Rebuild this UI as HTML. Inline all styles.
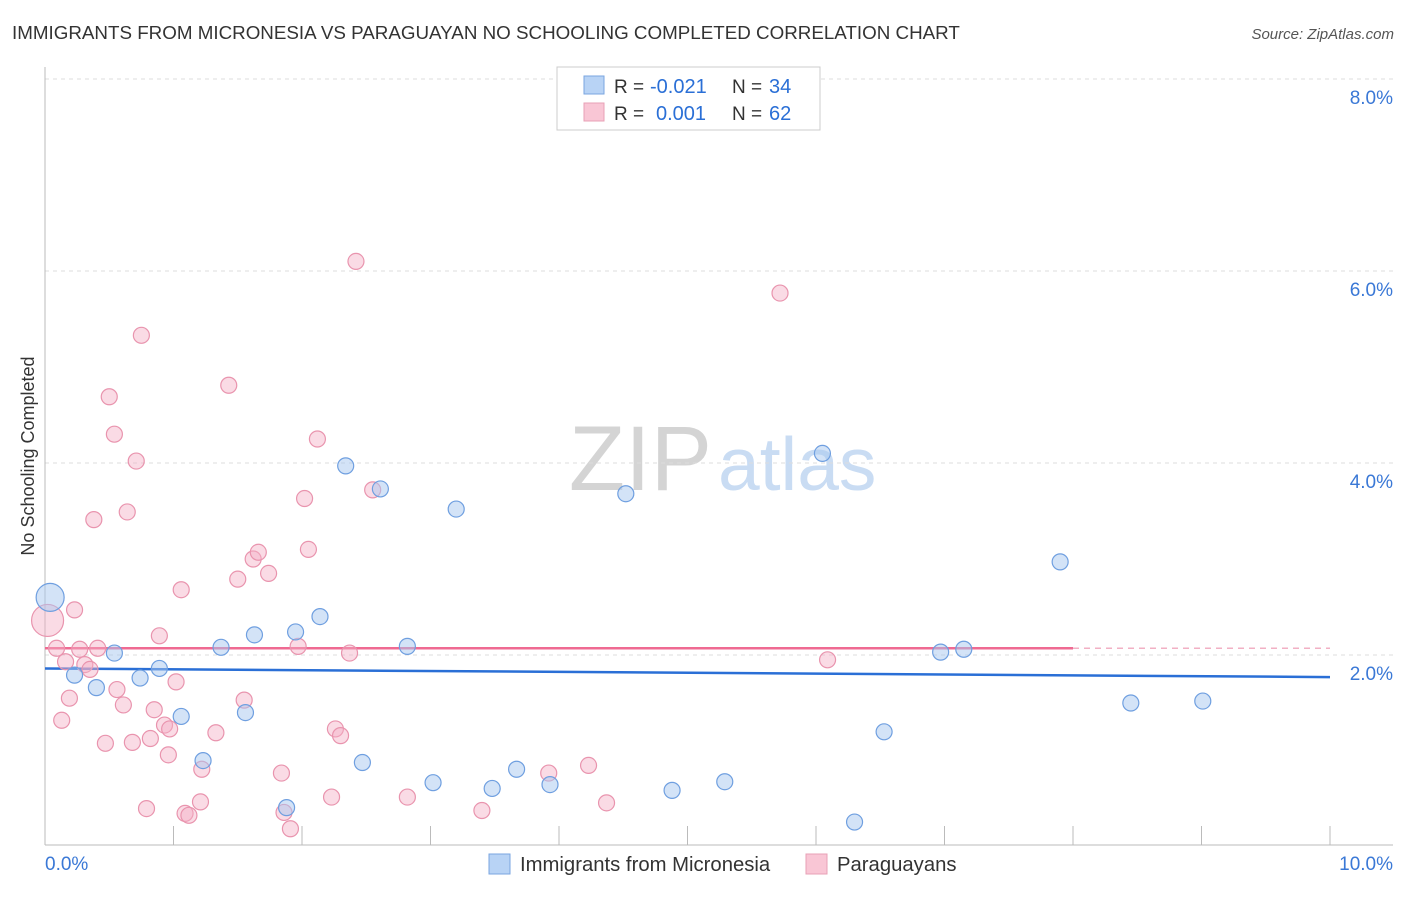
<!DOCTYPE html>
<html><head><meta charset="utf-8"><style>
body{margin:0;background:#fff;font-family:"Liberation Sans",sans-serif;}
svg text{font-family:"Liberation Sans",sans-serif;}
</style></head><body>
<svg id="chart" width="1406" height="892">
<text x="12" y="39" font-size="18.8" fill="#333">IMMIGRANTS FROM MICRONESIA VS PARAGUAYAN NO SCHOOLING COMPLETED CORRELATION CHART</text>
<text x="1394" y="39" font-size="15" fill="#555" font-style="italic" text-anchor="end">Source: ZipAtlas.com</text>
<text x="34" y="456" font-size="18" fill="#333" text-anchor="middle" transform="rotate(-90 34 456)">No Schooling Completed</text>
<text x="712" y="490" font-size="92" fill="#d4d4d4" font-family="Liberation Serif" text-anchor="end">ZIP</text>
<text x="718" y="490" font-size="75" fill="#c9dcf3">atlas</text>
<g id="grid"></g><g id="axes"></g><g id="lines"></g><g id="points"></g>
<g>
<rect x="557" y="67" width="263" height="63" fill="#fff" stroke="#ccc"/>
<rect x="584" y="76" width="20" height="18" fill="#b8d3f5" stroke="#7aa6e0"/>
<text x="614" y="93" font-size="19" fill="#333">R =</text>
<text x="650" y="93" font-size="20" fill="#2a6fd6">-0.021</text>
<text x="732" y="93" font-size="19" fill="#333">N =</text>
<text x="769" y="93" font-size="20" fill="#2a6fd6">34</text>
<rect x="584" y="103" width="20" height="18" fill="#f9c6d5" stroke="#e8a0b6"/>
<text x="614" y="120" font-size="19" fill="#333">R =</text>
<text x="656" y="120" font-size="20" fill="#2a6fd6">0.001</text>
<text x="732" y="120" font-size="19" fill="#333">N =</text>
<text x="769" y="120" font-size="20" fill="#2a6fd6">62</text>
</g>
<g>
<rect x="489" y="854" width="21" height="20" fill="#b8d3f5" stroke="#7aa6e0"/>
<text x="520" y="871" font-size="20.3" fill="#333">Immigrants from Micronesia</text>
<rect x="806" y="854" width="21" height="20" fill="#f9c6d5" stroke="#e8a0b6"/>
<text x="837" y="871" font-size="20.3" fill="#333">Paraguayans</text>
</g>
</svg>
<script>
const yTicks=[2,4,6,8];
const yTickLabels=["2.0%","4.0%","6.0%","8.0%"];
const xTicks=[0,1,2,3,4,5,6,7,8,9,10];
const xEndLabels=["0.0%","10.0%"];
const blueX=[0.04,0.23,0.40,0.54,0.74,0.89,1.06,1.23,1.37,1.56,1.63,1.88,1.95,2.14,2.34,2.47,2.61,2.82,3.02,3.20,3.48,3.67,3.93,4.52,4.88,5.29,6.05,6.30,6.53,6.97,7.15,7.90,8.45,9.01];
const blueY=[2.60,1.79,1.66,2.02,1.76,1.86,1.36,0.90,2.08,1.40,2.21,0.41,2.24,2.40,3.97,0.88,3.73,2.09,0.67,3.52,0.61,0.81,0.65,3.68,0.59,0.68,4.10,0.26,1.20,2.03,2.06,2.97,1.50,1.52];
const pinkX=[0.02,0.09,0.13,0.16,0.19,0.23,0.27,0.31,0.35,0.38,0.41,0.47,0.50,0.54,0.56,0.61,0.64,0.68,0.71,0.75,0.79,0.82,0.85,0.89,0.93,0.96,0.97,1.02,1.06,1.09,1.12,1.21,1.22,1.33,1.43,1.50,1.55,1.62,1.66,1.74,1.84,1.86,1.91,1.97,2.02,2.05,2.12,2.23,2.26,2.30,2.37,2.42,2.55,2.82,3.40,3.92,4.23,4.37,5.72,6.09];
const pinkY=[2.36,2.07,1.32,1.93,1.55,2.47,2.06,1.90,1.85,3.41,2.07,1.08,4.69,4.30,1.64,1.48,3.49,1.09,4.02,5.33,0.40,1.13,1.43,2.20,1.27,0.96,1.23,1.72,2.68,0.35,0.33,0.47,0.81,1.19,4.81,2.79,1.53,3.00,3.07,2.85,0.77,0.36,0.19,2.09,3.63,3.10,4.25,0.52,1.23,1.16,2.02,6.10,3.72,0.52,0.38,0.77,0.85,0.46,5.77,1.95];
const blueTrend=[1.86,1.77];
const pinkTrend=[2.07,2.07];
const NS="http://www.w3.org/2000/svg";
const X=v=>45+v*128.5, Y=v=>847-v*96;
function mk(parent,tag,attrs){const e=document.createElementNS(NS,tag);for(const k in attrs)e.setAttribute(k,attrs[k]);document.getElementById(parent).appendChild(e);return e;}
yTicks.forEach((t,i)=>{
 const g=mk('grid','line',{x1:45,x2:1393,y1:Y(t),y2:Y(t),stroke:'#ddd','stroke-dasharray':'4,4'});
 
 
 const l=mk('axes','text',{x:1393,y:Y(t)+25,'font-size':19,fill:'#3a78d6','text-anchor':'end'});l.textContent=yTickLabels[i];
 
 
});
const ax=mk('axes','line',{x1:45,x2:45,y1:67,y2:845,stroke:'#bbb'});


const bx=mk('axes','line',{x1:45,x2:1393,y1:845,y2:845,stroke:'#bbb'});


xTicks.forEach(t=>{const k=mk('axes','line',{x1:X(t),x2:X(t),y1:826,y2:845,stroke:'#bbb'});
 
 });
[[0,'start',xEndLabels[0]],[10,'end',xEndLabels[1]]].forEach(a=>{
 const l=mk('axes','text',{x:a[0]===0?45:1393,y:870,'font-size':19,fill:'#3a78d6','text-anchor':a[1]});l.textContent=a[2];
 
 });
const bl=mk('lines','line',{x1:X(0),x2:X(10),y1:Y(blueTrend[0]),y2:Y(blueTrend[1]),stroke:'#2a6fd6','stroke-width':2.5});


const pl=mk('lines','line',{x1:X(0),x2:X(8),y1:Y(pinkTrend[0]),y2:Y(pinkTrend[0]+(pinkTrend[1]-pinkTrend[0])*0.8),stroke:'#ef6a92','stroke-width':2.5});


const pd=mk('lines','line',{x1:X(8),x2:X(10),y1:Y(pinkTrend[0]+(pinkTrend[1]-pinkTrend[0])*0.8),y2:Y(pinkTrend[1]),stroke:'#f2b0c4','stroke-width':1.5,'stroke-dasharray':'6,5'});


pinkX.forEach((x,i)=>{const c=mk('points','circle',{cx:X(x),cy:Y(pinkY[i]),r:i===0?16:8,fill:'rgba(245,175,198,0.45)',stroke:'#e994ae','stroke-width':1.2});
 
 });
blueX.forEach((x,i)=>{const c=mk('points','circle',{cx:X(x),cy:Y(blueY[i]),r:i===0?14:8,fill:'rgba(168,200,240,0.5)',stroke:'#6f9fe0','stroke-width':1.2});
 
 });
</script>
</body></html>
